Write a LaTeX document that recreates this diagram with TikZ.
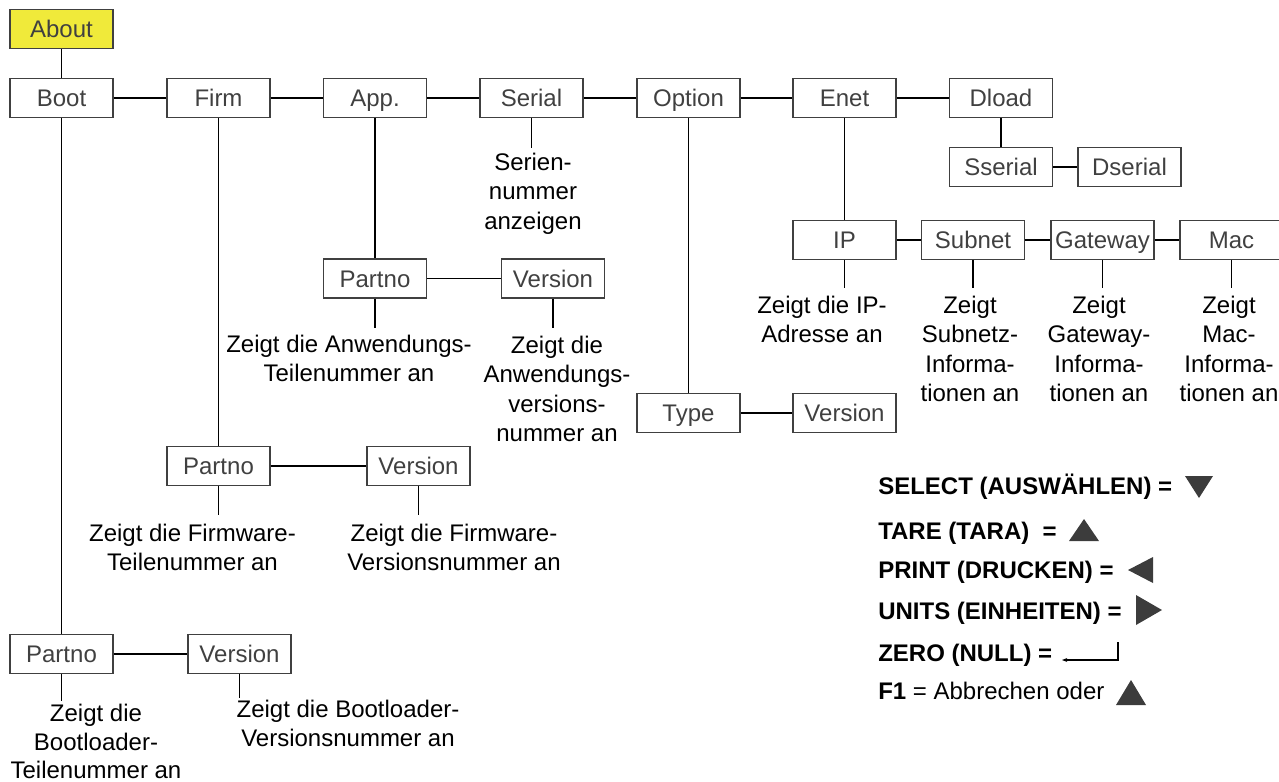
\documentclass[tikz,border=0pt]{standalone}
\usepackage{fontspec}
\setmainfont{Liberation Sans}
\usetikzlibrary{arrows.meta}
\definecolor{boxgray}{RGB}{64,64,64}
\definecolor{aboutyellow}{RGB}{240,234,58}
\definecolor{trigray}{RGB}{60,60,60}
\begin{document}
\begin{tikzpicture}[x=0.75pt,y=-0.75pt,
  menubox/.style={draw=boxgray, line width=0.9pt, minimum width=77.25pt, minimum height=29.25pt, inner sep=0pt, text=boxgray, text height=12.9pt, text depth=0pt, font=\fontsize{18}{22}\selectfont},
  desc/.style={align=center, anchor=north, inner sep=0pt, font=\fontsize{18}{22}\selectfont},
  conn/.style={line width=1.1pt, black},
  legend/.style={anchor=base west, inner sep=0pt, font=\fontsize{18}{22}\selectfont\bfseries},
  tri/.style={fill=trigray, draw=none}]
\useasboundingbox (0,0) rectangle (1279,782);

% boxes
\node[menubox, fill=aboutyellow] (about) at (61.5,29) {About};
\node[menubox] (boot) at (61.5,98) {Boot};
\node[menubox] (firm) at (218.5,98) {Firm};
\node[menubox] (app) at (375,98) {App.};
\node[menubox] (serial) at (531.5,98) {Serial};
\node[menubox] (option) at (688.5,98) {Option};
\node[menubox] (enet) at (844.5,98) {Enet};
\node[menubox] (dload) at (1001,98) {Dload};
\node[menubox] (sserial) at (1001,167) {Sserial};
\node[menubox] (dserial) at (1129.5,167) {Dserial};
\node[menubox] (ip) at (844.5,240) {IP};
\node[menubox] (subnet) at (973,240) {Subnet};
\node[menubox] (gateway) at (1102.5,240) {Gateway};
\node[menubox] (mac) at (1231.5,240) {Mac};
\node[menubox] (apppart) at (375,278.5) {Partno};
\node[menubox] (appver) at (553,278.5) {Version};
\node[menubox] (type) at (688.5,413) {Type};
\node[menubox] (optver) at (844.5,413) {Version};
\node[menubox] (firmpart) at (218.5,466) {Partno};
\node[menubox] (firmver) at (418.5,466) {Version};
\node[menubox] (bootpart) at (61.5,654) {Partno};
\node[menubox] (bootver) at (239.5,654) {Version};

% connectors between boxes
\draw[conn] (about) -- (boot);
\draw[conn] (boot) -- (firm);
\draw[conn] (firm) -- (app);
\draw[conn] (app) -- (serial);
\draw[conn] (serial) -- (option);
\draw[conn] (option) -- (enet);
\draw[conn] (enet) -- (dload);
\draw[conn] (dload) -- (sserial);
\draw[conn] (sserial) -- (dserial);
\draw[conn] (enet) -- (ip);
\draw[conn] (ip) -- (subnet);
\draw[conn] (subnet) -- (gateway);
\draw[conn] (gateway) -- (mac);
\draw[conn] (app) -- (apppart);
\draw[conn] (apppart) -- (appver);
\draw[conn] (option) -- (type);
\draw[conn] (type) -- (optver);
\draw[conn] (firm) -- (firmpart);
\draw[conn] (firmpart) -- (firmver);
\draw[conn] (boot) -- (bootpart);
\draw[conn] (bootpart) -- (bootver);

% description leads
\coordinate (serialE) at (531.5,148);
\coordinate (ipE) at (844.5,288);
\coordinate (subnetE) at (973,288);
\coordinate (gatewayE) at (1102.5,288);
\coordinate (macE) at (1231.5,288);
\coordinate (appartE) at (375,328);
\coordinate (appverE) at (553,328);
\coordinate (firmpartE) at (218.5,515);
\coordinate (firmverE) at (418.5,515);
\coordinate (bootpartE) at (61.5,701);
\coordinate (bootverE) at (239.5,698);
\draw[conn] (serial) -- (serialE);
\draw[conn] (ip) -- (ipE);
\draw[conn] (subnet) -- (subnetE);
\draw[conn] (gateway) -- (gatewayE);
\draw[conn] (mac) -- (macE);
\draw[conn] (apppart) -- (appartE);
\draw[conn] (appver) -- (appverE);
\draw[conn] (firmpart) -- (firmpartE);
\draw[conn] (firmver) -- (firmverE);
\draw[conn] (bootpart) -- (bootpartE);
\draw[conn] (bootver) -- (bootverE);

% descriptions
\node[desc] (serialT) at (533,153) {Serien-\\nummer\\anzeigen};
\node[desc] (ipT) at (822,296) {Zeigt die IP-\\Adresse an};
\node[desc] (subnetT) at (970,296) {Zeigt\\Subnetz-\\Informa-\\tionen an};
\node[desc] (gatewayT) at (1099,296) {Zeigt\\Gateway-\\Informa-\\tionen an};
\node[desc] (macT) at (1229,296) {Zeigt\\Mac-\\Informa-\\tionen an};
\node[desc] (appartT) at (349,335) {Zeigt die Anwendungs-\\Teilenummer an};
\node[desc] (appverT) at (557,336) {Zeigt die\\Anwendungs-\\versions-\\nummer an};
\node[desc] (firmpartT) at (192.5,524) {Zeigt die Firmware-\\Teilenummer an};
\node[desc] (firmverT) at (454,524) {Zeigt die Firmware-\\Versionsnummer an};
\node[desc, font=\fontsize{18}{21.5}\selectfont] (bootpartT) at (96,704) {Zeigt die\\Bootloader-\\Teilenummer an};
\node[desc] (bootverT) at (348,700) {Zeigt die Bootloader-\\Versionsnummer an};

% legend
\node[legend] (lsel) at (878,494) {SELECT (AUSWÄHLEN) =};
\node[legend] (ltare) at (878,539) {TARE (TARA)\ \ =};
\node[legend] (lprint) at (878,578) {PRINT (DRUCKEN) =};
\node[legend] (lunits) at (878,619) {UNITS (EINHEITEN) =};
\node[legend] (lzero) at (878,661) {ZERO (NULL) =};
\node[legend] (lf1) at (878,699) {F1 \mdseries= Abbrechen oder};

\fill[tri] (1185,476) -- (1213,476) -- (1199,498) -- cycle;
\fill[tri] (1069,541) -- (1099,541) -- (1084,519) -- cycle;
\fill[tri] (1153,557) -- (1153,583) -- (1128,570) -- cycle;
\fill[tri] (1136,595) -- (1136,625) -- (1162,610) -- cycle;
\fill[tri] (1116,705) -- (1146,705) -- (1131,680) -- cycle;
\draw[line width=0.8pt, -{Stealth[length=4pt,width=3pt]}] (1118,642) -- (1118,660) -- (1062,660);
\end{tikzpicture}
\end{document}
